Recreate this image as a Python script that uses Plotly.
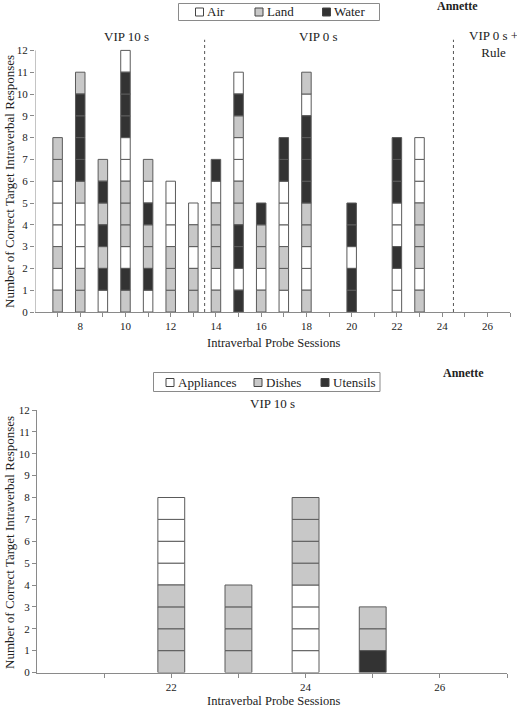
import plotly.graph_objects as go

# ---------------- data ----------------
top_categories = ["Air", "Land", "Water"]
top_codes = ["A", "L", "W"]
top_sessions = [7, 8, 9, 10, 11, 12, 13, 14, 15, 16, 17, 18, 20, 22, 23]
# unit responses per session, listed bottom to top
top_blocks = [
    ["L", "A", "L", "A", "A", "A", "L", "L"],
    ["L", "L", "A", "A", "A", "L", "W", "W", "W", "W", "L"],
    ["A", "W", "L", "W", "L", "W", "L"],
    ["L", "W", "A", "L", "L", "L", "A", "A", "W", "W", "W", "A"],
    ["A", "W", "L", "L", "W", "A", "L"],
    ["L", "L", "L", "A", "A", "A"],
    ["L", "L", "A", "L", "A"],
    ["L", "A", "L", "L", "L", "A", "W"],
    ["W", "A", "W", "W", "L", "L", "A", "A", "L", "W", "A"],
    ["L", "A", "L", "L", "W"],
    ["A", "L", "L", "A", "A", "A", "W", "W"],
    ["L", "A", "A", "L", "L", "W", "W", "W", "W", "A", "L"],
    ["W", "W", "A", "W", "W"],
    ["A", "A", "W", "A", "A", "W", "W", "W"],
    ["L", "A", "L", "L", "L", "A", "A", "A"],
]
top_phase_lines = [13.5, 24.5]
top_tickvals = list(range(7, 28))
top_ticklabels = [str(v) if v % 2 == 0 else "" for v in top_tickvals]

bot_categories = ["Appliances", "Dishes", "Utensils"]
bot_codes = ["A", "D", "U"]
bot_sessions = [22, 23, 24, 25]
bot_blocks = [
    ["D", "D", "D", "D", "A", "A", "A", "A"],
    ["D", "D", "D", "D"],
    ["A", "A", "A", "A", "D", "D", "D", "D"],
    ["U", "D", "D"],
]
bot_tickvals = list(range(21, 28))
bot_ticklabels = [str(v) if v % 2 == 0 else "" for v in bot_tickvals]

y_tickvals = list(range(0, 13))

# ---------------- style ----------------
fills = ["#ffffff", "#c8c8c8", "#333333"]
edge = "#5a5a5a"
axis_col = "#8a8a8a"
text_col = "#222222"
FONT = "Liberation Serif, Times New Roman, serif"
W, H = 517, 709


def px_x(p):
    return p / W


def px_y(p):
    return 1 - p / H


fig = go.Figure()


def add_blocks(sessions, blocks, codes, cats, xa, ya, width):
    for code, cat, fill in zip(codes, cats, fills):
        xs, bases = [], []
        for s, stack in zip(sessions, blocks):
            for lvl, c in enumerate(stack):
                if c == code:
                    xs.append(s)
                    bases.append(lvl)
        fig.add_trace(go.Bar(
            x=xs, y=[1] * len(xs), base=bases, width=width,
            name=cat, xaxis=xa, yaxis=ya, showlegend=False,
            marker=dict(color=fill, line=dict(color=edge, width=1)),
            hoverinfo="x+name",
        ))


add_blocks(top_sessions, top_blocks, top_codes, top_categories, "x", "y", 0.42)
add_blocks(bot_sessions, bot_blocks, bot_codes, bot_categories, "x2", "y2", 0.4)

tickfont = dict(family=FONT, size=11, color=text_col)

axis_common = dict(showgrid=False, zeroline=False, ticks="outside", ticklen=4,
                   tickcolor=axis_col, linecolor=axis_col, linewidth=1,
                   tickfont=tickfont, automargin=False, fixedrange=True)

fig.update_layout(
    width=W, height=H,
    margin=dict(l=0, r=0, t=0, b=0, autoexpand=False),
    paper_bgcolor="white", plot_bgcolor="white",
    barmode="overlay",
    font=dict(family=FONT, color=text_col),
    showlegend=False,
    xaxis=dict(domain=[px_x(35), px_x(510)], range=[6, 27], anchor="y",
               tickvals=top_tickvals, ticktext=top_ticklabels, showline=True,
               **axis_common),
    yaxis=dict(domain=[px_y(312), px_y(39.5)], range=[0, 12.5], anchor="x",
               tickvals=y_tickvals, showline=False, **axis_common),
    xaxis2=dict(domain=[px_x(37), px_x(507)], range=[20, 27], anchor="y2",
                tickvals=bot_tickvals, ticktext=bot_ticklabels, showline=True,
                **axis_common),
    yaxis2=dict(domain=[px_y(672.5), px_y(410)], range=[0, 12], anchor="x2",
                tickvals=y_tickvals, showline=True, **axis_common),
)

# y axis line of top chart (stops at 12 while the phase lines reach above)
fig.add_shape(type="line", xref="x", yref="y", x0=6, x1=6, y0=0, y1=12,
              line=dict(color=axis_col, width=1))
for xv in top_phase_lines:
    fig.add_shape(type="line", xref="x", yref="y", x0=xv, x1=xv, y0=0, y1=12.5,
                  line=dict(color="#555555", width=1, dash="dot"))


def paper_text(text, x, y, size=13, anchor="center", angle=0, bold=False):
    fig.add_annotation(text=f"<b>{text}</b>" if bold else text,
                       xref="paper", yref="paper", x=px_x(x), y=px_y(y),
                       showarrow=False, textangle=angle,
                       font=dict(family=FONT, size=size, color=text_col),
                       xanchor=anchor, yanchor="middle")


# phase labels
paper_text("VIP 10 s", 127, 36)
paper_text("VIP 0 s", 318, 36)
paper_text("VIP 0 s +<br>Rule", 493, 44)
paper_text("VIP 10 s", 272, 403)

# participant labels
paper_text("Annette", 457, 6, size=12, bold=True)
paper_text("Annette", 463, 373, size=12, bold=True)

# axis titles
paper_text("Intraverbal Probe Sessions", 273, 343, size=12.5)
paper_text("Intraverbal Probe Sessions", 273, 700.5, size=12.5)
paper_text("Number of Correct Target Intraverbal Responses", 9, 182, angle=-90)
paper_text("Number of Correct Target Intraverbal Responses", 9, 543, angle=-90)


# custom legends (box, swatches, labels)
def legend(box, items, yc):
    x0, x1, y0, y1 = box
    fig.add_shape(type="rect", xref="paper", yref="paper",
                  x0=px_x(x0), x1=px_x(x1), y0=px_y(y1), y1=px_y(y0),
                  line=dict(color=axis_col, width=1), fillcolor="white")
    for (sx, label), fill in zip(items, fills):
        fig.add_shape(type="rect", xref="paper", yref="paper",
                      x0=px_x(sx), x1=px_x(sx + 8), y0=px_y(yc + 4), y1=px_y(yc - 4),
                      line=dict(color="#444444", width=1), fillcolor=fill)
        paper_text(label, sx + 9.5, yc, anchor="left")


legend((178.5, 379.5, 3.5, 20.5),
       list(zip([195.5, 255, 322.5], top_categories)), 12)
legend((153.5, 380, 372.5, 391.5),
       list(zip([166, 254, 321], bot_categories)), 382.5)

fig.write_html("out.html",
               config={"displayModeBar": False},
               post_script="document.body.style.margin='0';document.body.style.padding='0';")
